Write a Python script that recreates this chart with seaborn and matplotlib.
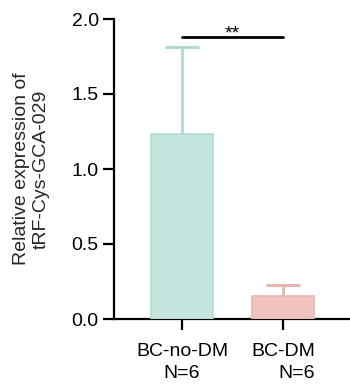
import matplotlib
matplotlib.use("Agg")
import matplotlib.pyplot as plt
import seaborn as sns
import numpy as np

groups = ["BC-no-DM", "BC-DM"]
tick_labels = ["BC-no-DM\nN=6", "BC-DM\nN=6"]
means = [1.235, 0.155]
sds = [0.58, 0.075]
face_colors = ["#c4e4de", "#f0c4bf"]
edge_colors = ["#b0dbd2", "#eab4ae"]
sig_label = "**"

sns.set_theme(style="ticks")
plt.rcParams["font.family"] = ["Liberation Sans", "DejaVu Sans"]

fig = plt.figure(figsize=(3.5, 3.84), dpi=100)
ax = fig.add_axes([114/350, 65/384, 236/350, 300/384])

sns.barplot(x=groups, y=means, hue=groups, palette=face_colors, legend=False,
            width=0.62, saturation=1, ax=ax, zorder=3)
for patch, ec in zip(ax.patches, edge_colors):
    patch.set_edgecolor(ec)
    patch.set_linewidth(1.2)

xs = np.arange(len(groups))
for x, m, s, ec in zip(xs, means, sds, edge_colors):
    ax.vlines(x, m, m + s, color=ec, lw=2, zorder=2)
    ax.hlines(m + s, x - 0.17, x + 0.17, color=ec, lw=2.2, zorder=2)

# significance bracket
ax.plot([xs[0], xs[1]], [1.878, 1.878], color="black", lw=2, clip_on=False)
ax.text((xs[0] + xs[1]) / 2, 1.842, sig_label, ha="center", va="bottom",
        fontsize=14, color="black")

ax.set_ylim(0, 2.0)
ax.set_xlim(-0.673, 1.663)
ax.set_yticks([0.0, 0.5, 1.0, 1.5, 2.0])
ax.set_yticklabels(["0.0", "0.5", "1.0", "1.5", "2.0"])
ax.set_xticks(xs)
labels = ax.set_xticklabels(tick_labels)
labels[0].set_multialignment("center")
labels[1].set_multialignment("right")
for lab in labels:
    lab.set_linespacing(1.45)

ax.set_xlabel("")
ax.set_ylabel("Relative expression of\ntRF-Cys-GCA-029", fontsize=14, labelpad=16)
ax.tick_params(axis="both", labelsize=14, width=1.6, length=8, color="black",
               labelcolor="black")
ax.tick_params(axis="y", pad=3)
ax.tick_params(axis="x", pad=9)
for side in ["top", "right"]:
    ax.spines[side].set_visible(False)
for side in ["left", "bottom"]:
    ax.spines[side].set_linewidth(1.6)
    ax.spines[side].set_color("black")

fig.savefig("out.png", dpi=100)
